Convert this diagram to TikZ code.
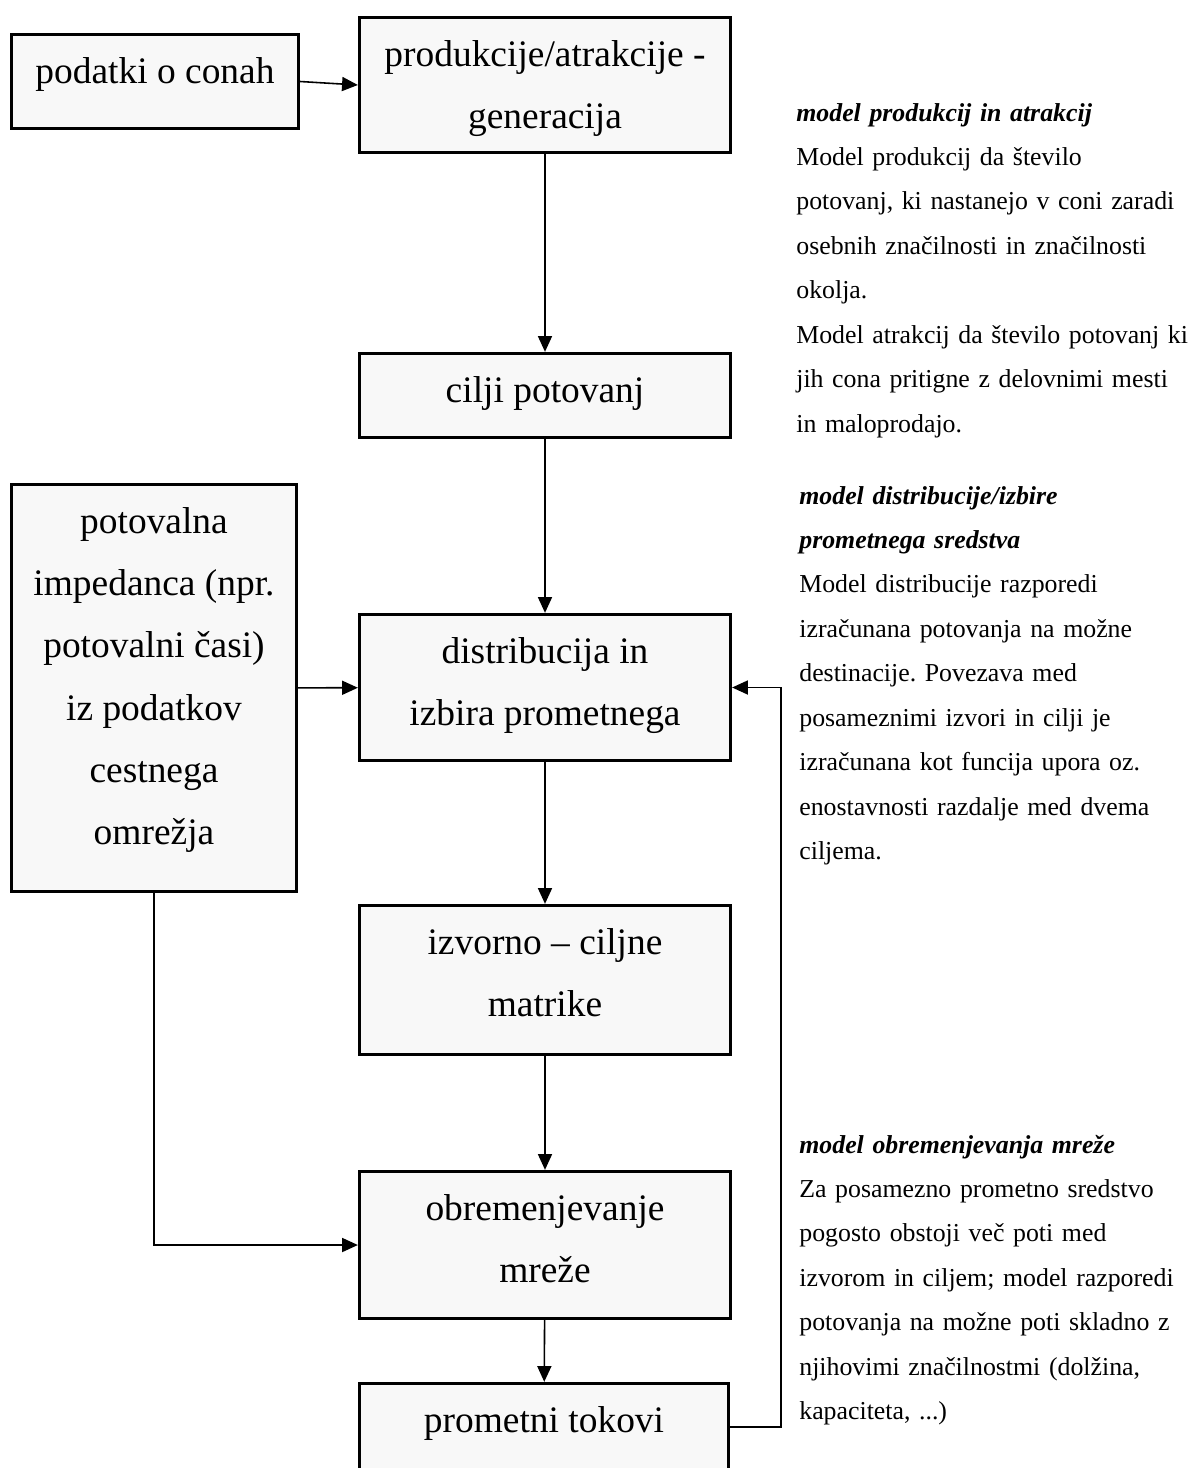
\documentclass[tikz,border=0pt]{standalone}
\usepackage{fontspec}
\setmainfont{Liberation Serif}
\usetikzlibrary{arrows.meta}
\definecolor{boxfill}{HTML}{F8F8F8}
% text of a stage box, set from its top edge
\newcommand{\stagetext}[3]{\parbox[c][#2][t]{#1}{\centering\rule{0pt}{0.97cm}#3}}
\begin{document}
\begin{tikzpicture}[x=0.02cm,y=-0.02cm,
    stagebox/.style={draw,line width=1.9pt,fill=boxfill,inner sep=0pt,
      font=\fontsize{21.3}{35.5}\selectfont},
    flow/.style={-{Triangle[length=9pt,width=8pt]},line width=0.9pt},
    note/.style={anchor=base west,inner sep=0pt,text width=8.6cm,align=left,
      font=\fontsize{14.7}{25.3}\selectfont\frenchspacing}]
  \useasboundingbox (0,0) rectangle (1193,1468);
  % stages of the model
  \node[stagebox] (zones) at (155,81.5) {\stagetext{5.74cm}{1.88cm}{podatki o conah}};
  \node[stagebox] (gen) at (545,85) {\stagetext{7.42cm}{2.7cm}{produkcije/atrakcije -\\generacija}};
  \node[stagebox] (goals) at (545,395.5) {\stagetext{7.42cm}{1.68cm}{cilji potovanj}};
  \node[stagebox] (imped) at (154,688) {\stagetext{5.7cm}{8.14cm}{potovalna\\impedanca (npr.\\potovalni časi)\\iz podatkov\\cestnega\\omrežja}};
  \node[stagebox] (distr) at (545,687.5) {\stagetext{7.42cm}{2.92cm}{distribucija in\\izbira prometnega}};
  \node[stagebox] (odmat) at (545,980) {\stagetext{7.42cm}{2.98cm}{izvorno – ciljne\\matrike}};
  \node[stagebox] (assign) at (545,1245) {\stagetext{7.42cm}{2.94cm}{obremenjevanje\\mreže}};
  \node[stagebox] (flows) at (544,1427) {\stagetext{7.38cm}{1.74cm}{prometni tokovi}};
  % connectors
  \draw[flow] (zones.east) -- (gen.west);
  \draw[flow] (gen) -- (goals);
  \draw[flow] (goals) -- (distr);
  \draw[flow] (imped) -- (distr);
  \draw[flow] (distr) -- (odmat);
  \draw[flow] (odmat) -- (assign);
  \draw[flow] (assign) -- (flows);
  \draw[flow] (imped.south) |- (assign.west);
  \draw[flow] (flows.east) -- ++(51,0) |- (distr.east);
  % descriptions
  \node[note] (notegen) at (796,121) {\textbf{\textit{model produkcij in atrakcij}}\\
    Model produkcij da število\\
    potovanj, ki nastanejo v coni zaradi\\
    osebnih značilnosti in značilnosti\\
    okolja.\\
    Model atrakcij da število potovanj ki\\
    jih cona pritigne z delovnimi mesti\\
    in maloprodajo.};
  \node[note] (notedistr) at (799,504) {\textbf{\textit{model distribucije/izbire}}\\
    \textbf{\textit{prometnega sredstva}}\\
    Model distribucije razporedi\\
    izračunana potovanja na možne\\
    destinacije. Povezava med\\
    posameznimi izvori in cilji je\\
    izračunana kot funcija upora oz.\\
    enostavnosti razdalje med dvema\\
    ciljema.};
  \node[note] (noteassign) at (799,1153) {\textbf{\textit{model obremenjevanja mreže}}\\
    Za posamezno prometno sredstvo\\
    pogosto obstoji več poti med\\
    izvorom in ciljem; model razporedi\\
    potovanja na možne poti skladno z\\
    njihovimi značilnostmi (dolžina,\\
    kapaciteta, ...)};
\end{tikzpicture}
\end{document}
